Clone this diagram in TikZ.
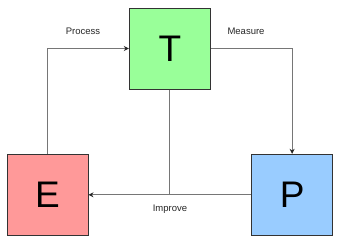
\documentclass[tikz,border=0pt]{standalone}
\usepackage{fontspec}
\setmainfont{Liberation Sans}
\usetikzlibrary{arrows.meta, positioning}
\definecolor{tgreen}{HTML}{99FF99}
\definecolor{ered}{HTML}{FF9999}
\definecolor{pblue}{HTML}{99CCFF}
\definecolor{boxgray}{HTML}{333333}
\definecolor{linegray}{HTML}{767676}
\tikzset{
  letterbox/.style={
    rectangle, draw=boxgray, fill=#1, line width=1pt,
    minimum width=81pt, minimum height=81pt, inner sep=0pt,
    font=\fontsize{37}{37}\selectfont
  },
  arrow/.style={-{Stealth[length=5pt, width=5pt, color=black!85]},
    line width=1pt, draw=linegray},
  lbl/.style={font=\fontsize{9.5}{10}\selectfont, text=black!85}
}
\begin{document}
\begin{tikzpicture}
        \useasboundingbox (0,0) rectangle (339pt,-242pt);
        \node[letterbox=tgreen] (T) at (169.8pt,-48.5pt) {T};
        \node[letterbox=ered, below left=64.3pt and 40.3pt of T] (E) {E};
        \node[letterbox=pblue, below right=64.3pt and 40.3pt of T] (P) {P};
        \coordinate (join) at (T.south |- E.east);
        \draw[arrow] (E.north) |- (T.west);
        \draw[arrow] (T.east) -| (P.north);
        \draw[arrow] (P.west) -- (E.east);
        \draw[line width=1pt, draw=linegray] (T.south) -- (join);
        \node[lbl] (lproc) at (83pt,-31pt) {Process};
        \node[lbl] (lmeas) at (246pt,-31pt) {Measure};
        \node[lbl] (limpr) at (170pt,-209pt) {Improve};
      \end{tikzpicture}
\end{document}
